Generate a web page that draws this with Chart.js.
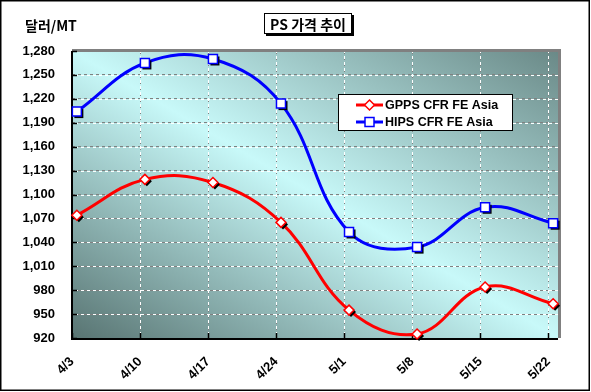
<!DOCTYPE html>
<html><head><meta charset="utf-8">
<script src="https://cdn.jsdelivr.net/npm/chart.js@4/dist/chart.umd.min.js"></script>
<style>html,body{margin:0;padding:0;background:#fff}canvas{display:block}</style>
</head><body>
<canvas id="c" width="591" height="392"></canvas>
<script>
const categories = ['4/3','4/10','4/17','4/24','5/1','5/8','5/15','5/22'];
const gppsValues = [1074,1119,1115,1065,955,925,984,963];
const hipsValues = [1204,1265,1270,1214,1053,1034,1084,1064];
const yMin = 920, yMax = 1280, yStep = 30;
const seriesNames = ['GPPS CFR FE Asia','HIPS CFR FE Asia'];
const chartTitle = 'PS 가격 추이';
const yTitle = '달러/MT';

const DAYS = 7;
const FONT = '"Liberation Sans", Arial, "Noto Sans CJK KR", sans-serif';
const KFONT = '"Noto Sans CJK KR", "Liberation Sans", sans-serif';
const RED = '#ff0000', BLUE = '#0000ff';

function toPts(vals){ return vals.map((v,i)=>({x:i*DAYS+0.5, y:v})); }

function shape(ctx, style, x, y, r){
  ctx.beginPath();
  if(style==='diamond'){
    ctx.moveTo(x, y-r); ctx.lineTo(x+r, y); ctx.lineTo(x, y+r); ctx.lineTo(x-r, y); ctx.closePath();
  } else {
    ctx.rect(x-r, y-r, 2*r, 2*r);
  }
}

const bgPlugin = {
  id:'bg',
  beforeDraw(chart){
    const ctx = chart.ctx;
    ctx.save();
    ctx.fillStyle='#fff'; ctx.fillRect(0,0,chart.width,chart.height);
    const {left,top,right,bottom} = chart.chartArea;
    ctx.translate(left, top);
    ctx.scale(right-left, bottom-top);
    const g = ctx.createLinearGradient(0,1,1,0);
    g.addColorStop(0,'#587472');
    g.addColorStop(0.5,'#c8f9f9');
    g.addColorStop(1,'#6a8987');
    ctx.fillStyle=g; ctx.fillRect(0,0,1,1);
    ctx.restore();
  },
  beforeDatasetsDraw(chart){
    const ctx = chart.ctx;
    const {left,top,right,bottom} = chart.chartArea;
    const xs = chart.scales.x, ys = chart.scales.y;
    ctx.save();
    ctx.strokeStyle='#ffffff'; ctx.lineWidth=1;
    ctx.setLineDash([3,3]); ctx.lineDashOffset=3;
    ys.ticks.forEach(t=>{
      const y = Math.round(ys.getPixelForValue(t.value))+0.5;
      if(t.value===yMin) return;
      ctx.beginPath(); ctx.moveTo(left,y); ctx.lineTo(right,y); ctx.stroke();
    });
    xs.ticks.forEach(t=>{
      if(t.value===0) return;
      const x = Math.round(xs.getPixelForValue(t.value))+0.5;
      ctx.beginPath(); ctx.moveTo(x,bottom); ctx.lineTo(x,top); ctx.stroke();
    });
    ctx.setLineDash([]);
    ctx.strokeStyle='#808080'; ctx.lineWidth=3;
    ctx.beginPath(); ctx.moveTo(left, top-0.5); ctx.lineTo(right+1.5, top-0.5); ctx.lineTo(right+1.5, bottom); ctx.stroke();
    ctx.strokeStyle='#000'; ctx.lineWidth=2;
    ctx.beginPath(); ctx.moveTo(left, top); ctx.lineTo(left, bottom+1); ctx.lineTo(right, bottom+1); ctx.stroke();
    ctx.lineWidth=1.5;
    ys.ticks.forEach(t=>{
      const y = Math.round(ys.getPixelForValue(t.value))+0.5;
      ctx.beginPath(); ctx.moveTo(left,y); ctx.lineTo(left+5,y); ctx.stroke();
    });
    xs.ticks.forEach(t=>{
      const x = Math.round(xs.getPixelForValue(t.value))+0.5;
      ctx.beginPath(); ctx.moveTo(x,bottom); ctx.lineTo(x,bottom-5); ctx.stroke();
    });
    ctx.restore();
  },
  afterDatasetDraw(chart, args){
    const ctx = chart.ctx;
    const ds = chart.data.datasets[args.index];
    const style = ds.markStyle;
    const r = style==='diamond' ? 5 : 4.5;
    ctx.save();
    args.meta.data.forEach(pt=>{
      ctx.fillStyle='#000';
      shape(ctx, style, pt.x+2, pt.y+2, r); ctx.fill();
      ctx.fillStyle='#fff'; ctx.strokeStyle=ds.borderColor; ctx.lineWidth=1.5;
      shape(ctx, style, pt.x, pt.y, r); ctx.fill(); ctx.stroke();
    });
    ctx.restore();
  },
  afterDraw(chart){
    const ctx = chart.ctx;
    ctx.save();
    ctx.strokeStyle='#000'; ctx.lineWidth=1.5;
    ctx.strokeRect(0.75,0.75,chart.width-2.5,chart.height-2.5);
    const bx=264, by=13, bw=88, bh=21;
    ctx.fillStyle='#000'; ctx.fillRect(bx+2,by+2,bw,bh);
    ctx.fillStyle='#fff'; ctx.fillRect(bx,by,bw,bh);
    ctx.strokeStyle='#000'; ctx.lineWidth=1; ctx.strokeRect(bx+0.5,by+0.5,bw-1,bh-1);
    ctx.fillStyle='#000'; ctx.font='bold 14px '+KFONT; ctx.textAlign='center'; ctx.textBaseline='middle';
    ctx.fillText(chartTitle, bx+bw/2, by+bh/2+1);
    ctx.font='bold 14px '+KFONT; ctx.textAlign='left';
    ctx.fillText(yTitle, 25, 26);
    const lx=338, ly=94, lw=175, lh=37;
    ctx.fillStyle='#fff'; ctx.fillRect(lx,ly,lw,lh);
    ctx.strokeStyle='#000'; ctx.lineWidth=1; ctx.strokeRect(lx+0.5,ly+0.5,lw-1,lh-1);
    const rows=[{y:105,c:RED,s:'diamond',t:seriesNames[0]},{y:122,c:BLUE,s:'square',t:seriesNames[1]}];
    ctx.font='bold 12.5px '+FONT; ctx.textBaseline='middle'; ctx.textAlign='left';
    rows.forEach(rw=>{
      ctx.strokeStyle=rw.c; ctx.lineWidth=3;
      ctx.beginPath(); ctx.moveTo(356,rw.y); ctx.lineTo(383,rw.y); ctx.stroke();
      ctx.fillStyle='#fff'; ctx.lineWidth=1.5;
      shape(ctx, rw.s, 369.5, rw.y, rw.s==='diamond'?5:4.5); ctx.fill(); ctx.stroke();
      ctx.fillStyle='#000'; ctx.fillText(rw.t, 385, rw.y+1);
    });
    ctx.restore();
  }
};

new Chart(document.getElementById('c'), {
  type:'line',
  data:{
    datasets:[
      {label:seriesNames[1], data:toPts(hipsValues), borderColor:BLUE, borderWidth:3, pointRadius:0, tension:0.4, markStyle:'square'},
      {label:seriesNames[0], data:toPts(gppsValues), borderColor:RED, borderWidth:3, pointRadius:0, tension:0.4, markStyle:'diamond'}
    ]
  },
  options:{
    responsive:false, animation:false, devicePixelRatio:1,
    layout:{padding:{left:0, top:51, right:33, bottom:0}},
    plugins:{legend:{display:false}, title:{display:false}, tooltip:{enabled:false}},
    scales:{
      x:{
        type:'linear', min:0, max:(categories.length-1)*DAYS+1,
        afterBuildTicks(s){ s.ticks = categories.map((_,i)=>({value:i*DAYS})); },
        afterFit(s){ s.height = 54; },
        grid:{color:'#808080', lineWidth:1, drawTicks:false},
        border:{display:false, dash:[3,3]},
        ticks:{
          autoSkip:false, minRotation:45, maxRotation:45, padding:16,
          color:'#000', font:{family:FONT, size:13, weight:'bold'},
          callback(v){ const i = Math.round(v/DAYS); return categories[i]; }
        }
      },
      y:{
        min:yMin, max:yMax,
        afterBuildTicks(s){ const t=[]; for(let v=yMin; v<=yMax; v+=yStep) t.push({value:v}); s.ticks=t; },
        afterFit(s){ s.width = 72; },
        grid:{color:'#808080', lineWidth:1, drawTicks:false},
        border:{display:false, dash:[3,3]},
        ticks:{
          padding:17, color:'#000', font:{family:FONT, size:13, weight:'bold'},
          callback(v){ return v.toLocaleString('en-US'); }
        }
      }
    }
  },
  plugins:[bgPlugin]
});
</script>
</body></html>
